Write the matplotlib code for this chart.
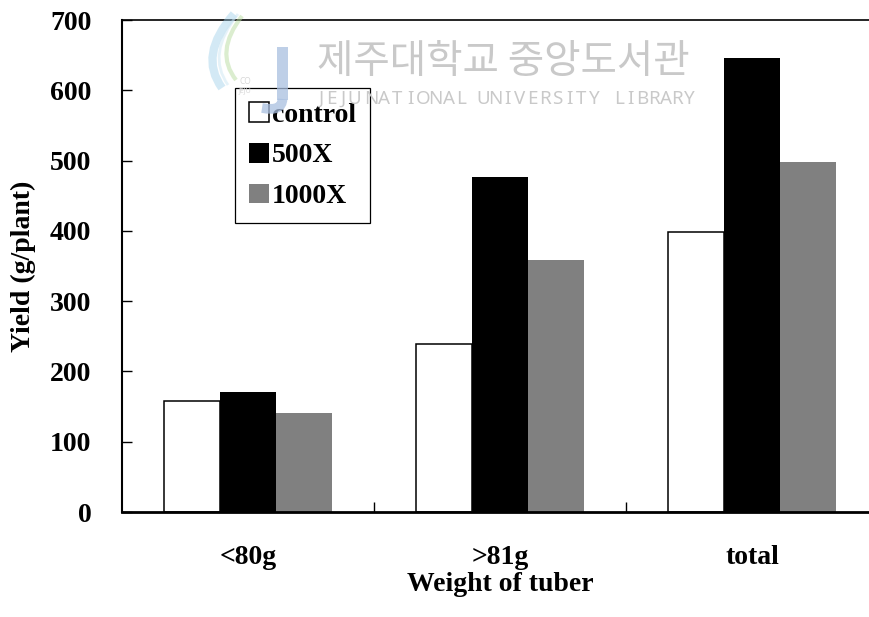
import numpy as np
import matplotlib.pyplot as plt
from matplotlib.path import Path
from matplotlib.patches import PathPatch, Rectangle

# tuber yield per plant by weight class
categories = ['<80g', '>81g', 'total']
control = [158, 239, 399]
x500 = [171, 476, 646]
x1000 = [141, 359, 498]
series_names = ['control', '500X', '1000X']

plt.rcParams['font.family'] = ['Liberation Serif', 'DejaVu Serif']
plt.rcParams['font.weight'] = 'bold'

W, H = 870, 617
fig = plt.figure(figsize=(W / 100, H / 100), dpi=100)

def px(x, y):
    # pixel position (from top-left) -> figure fraction
    return x / W, 1 - y / H

# axes box: left spine at x=122, bottom at y=512, top at y=20, right side runs off the figure
ax = fig.add_axes([122 / W, (H - 512) / H, 756 / W, 492 / H])

idx = np.arange(len(categories))
bw = 0.222
ax.bar(idx - bw, control, bw, color='white', edgecolor='black', linewidth=1.1, label=series_names[0])
ax.bar(idx, x500, bw, color='black', edgecolor='none', label=series_names[1])
ax.bar(idx + bw, x1000, bw, color='#808080', edgecolor='none', label=series_names[2])

ax.set_xlim(-0.5, 2.5)
ax.set_ylim(0, 700)
ax.set_yticks(range(0, 701, 100))
ax.set_xticks(idx)
ax.set_xticklabels(categories)
ax.set_xticks([0.5, 1.5], minor=True)

ax.tick_params(axis='y', direction='in', length=7, width=1, pad=22, labelsize=20)
ax.tick_params(axis='x', which='major', length=0, pad=24, labelsize=20)
ax.tick_params(axis='x', which='minor', direction='in', length=7, width=1)

ax.spines['bottom'].set_linewidth(2.0)
ax.spines['left'].set_linewidth(1.5)
ax.spines['top'].set_linewidth(1.2)
ax.spines['right'].set_visible(False)

ax.set_xlabel('Weight of tuber', fontsize=20, fontweight='bold', labelpad=1)
ax.set_ylabel('Yield (g/plant)', fontsize=20, fontweight='bold', labelpad=10)

leg = ax.legend(loc='upper left', bbox_to_anchor=px(235, 88), bbox_transform=fig.transFigure,
                fontsize=20, frameon=True, fancybox=False, edgecolor='black', framealpha=1,
                handlelength=0.72, handleheight=0.72, handletextpad=0.12, labelspacing=0.55,
                borderpad=0.5, borderaxespad=0)
leg.get_frame().set_linewidth(0.9)
leg.get_frame().set_facecolor('none')

# library stamp over the plot
wm = '#c9c9c9'
fig.text(*px(317, 62), '제주대학교 중앙도서관', family=['Noto Sans CJK KR', 'DejaVu Sans'],
         fontsize=28.5, color=wm, ha='left', va='center', fontweight='normal', zorder=10)
for word, x0, x1 in [('JEJU', 315, 360), ('NATIONAL', 365, 468),
                     ('UNIVERSITY', 477, 600), ('LIBRARY', 613, 695)]:
    # spread the letters of each word over its span
    step = (x1 - x0) / len(word)
    for k, ch in enumerate(word):
        fig.text(*px(x0 + step * (k + 0.5), 99), ch, family='Noto Sans', fontsize=13.5,
                 color=wm, ha='center', va='center', fontweight='normal', zorder=10)
fig.text(*px(245, 82), 'CO', family='Noto Sans', fontsize=6, color='#d8d8d8', ha='center', va='center', zorder=10)
fig.text(*px(245, 91), 'JEJU', family='Noto Sans', fontsize=5, color='#d8d8d8', ha='center', va='center', zorder=10)

def curve(pts, color, lw, alpha):
    verts = [px(*p) for p in pts]
    codes = [Path.MOVETO] + [Path.CURVE3] * (len(verts) - 1)
    fig.add_artist(PathPatch(Path(verts, codes), transform=fig.transFigure, fill=False,
                             edgecolor=color, linewidth=lw, alpha=alpha, zorder=9))

curve([(234, 14), (198, 55), (222, 88)], '#9fd0ea', 6, 0.45)
curve([(242, 16), (214, 52), (236, 80)], '#b9dca0', 3, 0.5)
curve([(238, 14), (206, 54), (228, 85)], '#cde6f3', 2, 0.5)
fig.add_artist(Rectangle(px(277, 100), 11 / W, 53 / H, transform=fig.transFigure,
                         color='#a9bfe0', alpha=0.75, linewidth=0, zorder=9))
curve([(282.5, 99), (282, 112), (262, 108)], '#a9bfe0', 7, 0.75)

fig.savefig('out.png', dpi=100)
